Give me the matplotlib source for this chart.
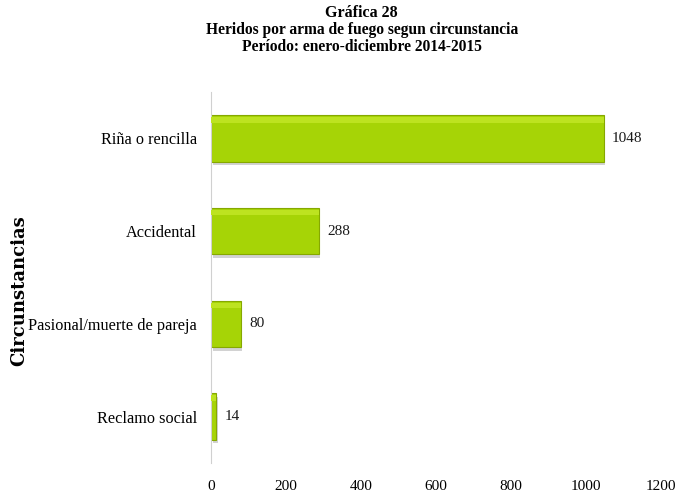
import matplotlib
matplotlib.use('Agg')
import matplotlib.pyplot as plt

categorias = ['Riña o rencilla', 'Accidental', 'Pasional/muerte de pareja', 'Reclamo social']
heridos = [1048, 288, 80, 14]
xticks = [0, 200, 400, 600, 800, 1000, 1200]

plt.rcParams['font.family'] = ['Liberation Serif', 'DejaVu Serif']

fig = plt.figure(figsize=(6.75, 4.92), dpi=100)
ax = fig.add_axes([0.3126, 0.059, 0.6664, 0.754])

pos = list(range(len(categorias)))
# sombra
ax.barh([p + 0.04 for p in pos], heridos, height=0.5, left=4, color='#d2d2d2', zorder=1)
ax.barh(pos, heridos, height=0.5, color='#a6d406', edgecolor='#86a800', linewidth=0.8, zorder=2)
# brillo superior
ax.barh([p - 0.2 for p in pos], heridos, height=0.06, color='#bde320', linewidth=0, zorder=3)
for p, v in zip(pos, heridos):
    ax.text(v + 22, p, str(v), va='center', ha='left', fontsize=11, color='#1a1a1a')

ax.set_xlim(0, 1200)
ax.set_ylim(3.5, -0.5)
ax.set_yticks(pos)
ax.set_yticklabels(categorias, fontsize=11.7)
ax.set_xticks(xticks)
ax.set_xticklabels([str(t) for t in xticks], fontsize=11)
ax.tick_params(length=0)
ax.tick_params(axis='x', pad=12)
ax.tick_params(axis='y', pad=10)
for s in ['top', 'right', 'bottom']:
    ax.spines[s].set_visible(False)
ax.spines['left'].set_color('#d0d0d0')

fig.text(0.028, 0.41, 'Circunstancias', rotation=90, ha='center', va='center',
         fontsize=13, fontweight='bold', family='DejaVu Serif')
fig.text(0.536, 0.974, 'Gráfica 28', ha='center', va='center', fontsize=11.5, fontweight='bold')
fig.text(0.536, 0.939, 'Heridos por arma de fuego segun circunstancia', ha='center', va='center',
         fontsize=11.2, fontweight='bold')
fig.text(0.536, 0.904, 'Período: enero-diciembre 2014-2015', ha='center', va='center',
         fontsize=11.2, fontweight='bold')

fig.savefig('out.png', dpi=100)
